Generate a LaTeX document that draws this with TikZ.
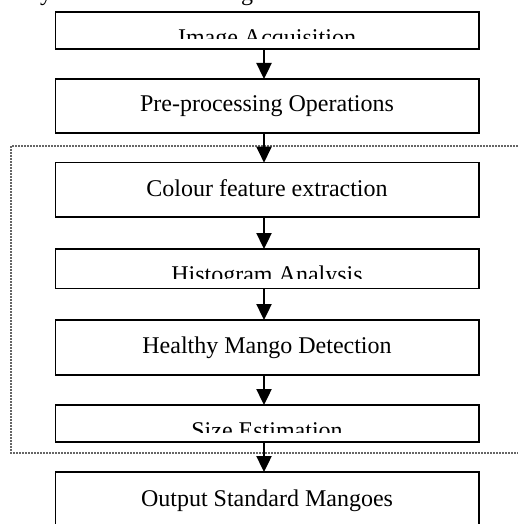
\documentclass[tikz,border=0pt]{standalone}
\usepackage{fontspec}
\setmainfont{Liberation Serif}
\usetikzlibrary{arrows.meta}
\tikzset{
  box/.style={draw=black, line width=1.5bp, anchor=north west, minimum width=423.5bp, inner sep=0pt, outer sep=0pt},
  lbl/.style={anchor=base, inner sep=0pt, font=\fontsize{24bp}{28bp}\selectfont},
  arr/.style={line width=2.4bp, -{Triangle[length=16bp,width=15bp]}},
  group/.style={draw=black!60, line width=1.2bp, dash pattern=on 2bp off 1bp}
}
\begin{document}
\begin{tikzpicture}[x=1bp,y=-1bp]
\useasboundingbox (0,0) rectangle (518,524);
\clip (0,0) rectangle (518,524);
% cut-off text from above
\node[lbl] (ty) at (46,1) {y};
\node[lbl] (tg) at (247,1) {g};
% dotted group frame
\draw[group] (530,146) -- (11,146) -- (11,453) -- (530,453);
% boxes
\node[box, minimum height=37bp] (b1) at (55.5,12) {};
\node[box, minimum height=54bp] (b2) at (55.5,79) {};
\node[box, minimum height=54.3bp] (b3) at (55.5,162.7) {};
\node[box, minimum height=39.5bp] (b4) at (55.5,249) {};
\node[box, minimum height=55bp] (b5) at (55.5,320) {};
\node[box, minimum height=37bp] (b6) at (55.5,405) {};
\node[box, minimum height=70bp] (b7) at (55.5,472) {};
% labels
\begin{scope}
\clip (55,12) rectangle (480,38.5);
\node[lbl] (t1) at (267,45.3) {Image Acquisition};
\end{scope}
\node[lbl] (t2) at (267,112) {Pre-processing Operations};
\node[lbl] (t3) at (267,196.5) {Colour feature extraction};
\begin{scope}
\clip (55,249) rectangle (480,278.5);
\node[lbl] (t4) at (267,282.3) {Histogram Analysis};
\end{scope}
\node[lbl] (t5) at (267,353) {Healthy Mango Detection};
\begin{scope}
\clip (55,405) rectangle (480,432);
\node[lbl] (t6) at (267,438.3) {Size Estimation};
\end{scope}
\node[lbl] (t7) at (267,506) {Output Standard Mangoes};
% arrows
\foreach \a/\b in {b1/b2,b2/b3,b3/b4,b4/b5,b5/b6,b6/b7}{
  \draw[arr] ([xshift=-3.25bp]\a.south) -- ([xshift=-3.25bp]\b.north);
}
\end{tikzpicture}
\end{document}
